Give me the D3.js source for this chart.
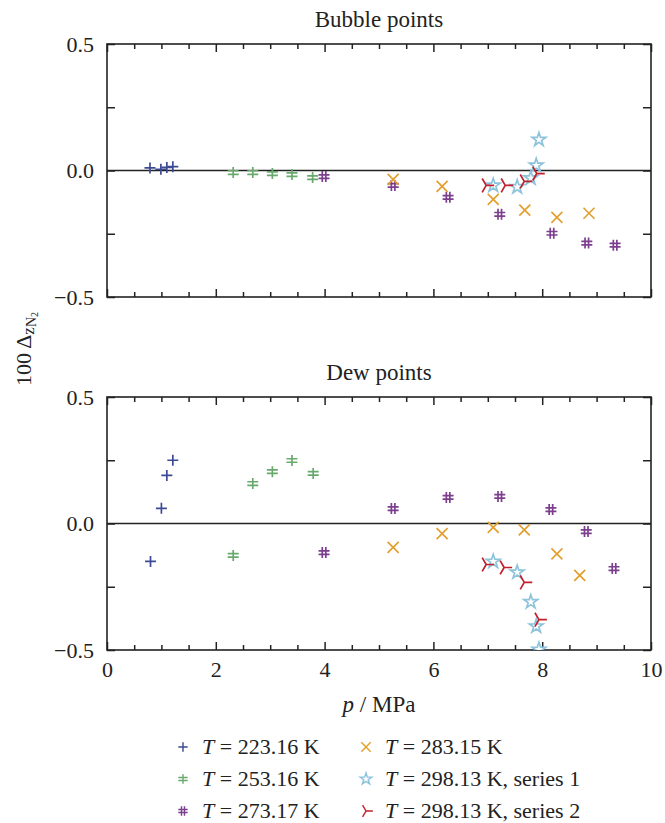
<!DOCTYPE html>
<html>
<head>
<meta charset="utf-8">
<script src="https://cdn.jsdelivr.net/npm/d3@7"></script>
<style>
  body { margin: 0; background: #fff; }
  text { font-family: "Liberation Serif", "DejaVu Serif", serif; fill: #222; }
</style>
</head>
<body>
<script>
// series labels (temperature) and extra text
const seriesT = ["223.16", "253.16", "273.17", "283.15", "298.13", "298.13"];
const seriesSuffix = ["", "", "", "", ", series 1", ", series 2"];

// bubble points: [p / MPa, 100*dz]
const bubble223 = [[0.79, 0.010], [0.99, 0.005], [1.10, 0.012], [1.21, 0.015]];
const bubble253 = [[2.32, -0.008], [2.68, -0.008], [3.04, -0.012], [3.40, -0.016], [3.78, -0.028]];
const bubble273 = [[3.99, -0.024], [5.26, -0.059], [6.27, -0.106], [7.22, -0.173], [8.18, -0.248], [8.82, -0.287], [9.34, -0.295]];
const bubble283 = [[5.26, -0.035], [6.16, -0.063], [7.10, -0.114], [7.68, -0.157], [8.27, -0.185], [8.86, -0.169]];
const bubble298a = [[7.10, -0.059], [7.54, -0.065], [7.79, -0.030], [7.89, 0.020], [7.94, 0.122]];
const bubble298b = [[6.97, -0.059], [7.32, -0.059], [7.67, -0.043], [7.90, -0.012]];

// dew points
const dew223 = [[0.80, -0.150], [1.00, 0.060], [1.10, 0.190], [1.21, 0.250]];
const dew253 = [[2.32, -0.126], [2.68, 0.158], [3.04, 0.205], [3.40, 0.249], [3.79, 0.198]];
const dew273 = [[3.99, -0.115], [5.26, 0.059], [6.27, 0.103], [7.22, 0.107], [8.16, 0.055], [8.81, -0.032], [9.32, -0.178]];
const dew283 = [[5.26, -0.094], [6.16, -0.040], [7.10, -0.015], [7.67, -0.025], [8.27, -0.120], [8.69, -0.205]];
const dew298a = [[7.10, -0.150], [7.54, -0.193], [7.79, -0.310], [7.89, -0.406], [7.94, -0.498]];
const dew298b = [[6.97, -0.162], [7.30, -0.174], [7.67, -0.233], [7.94, -0.380]];

const bubbleSets = [bubble223, bubble253, bubble273, bubble283, bubble298a, bubble298b];
const dewSets = [dew223, dew253, dew273, dew283, dew298a, dew298b];

const colors = ["#3d4b94", "#6aa96e", "#7c3f8e", "#e1a02e", "#8ec3dc", "#c2202b"];

const xTicks = [0, 2, 4, 6, 8, 10];
const yTicks = [-0.5, 0, 0.5];

// marker shapes
function shape(i) {
  const s = 5.5;
  switch (i) {
    case 0: return `M${-s},0H${s}M0,${-s}V${s}`;
    case 1: return `M0,${-s}V${s}M${-s},${-s*0.32}H${s}M${-s},${s*0.32}H${s}`;
    case 2: return `M${-s*0.32},${-s}V${s}M${s*0.32},${-s}V${s}M${-s},${-s*0.32}H${s}M${-s},${s*0.32}H${s}`;
    case 3: return `M${-s},${-s}L${s},${s}M${-s},${s}L${s},${-s}`;
    case 4: return d3.symbol(d3.symbolStar, 58)();
    case 5: { const r = 8; return `M0,0H${r}M0,0L${-r*0.5},${-r*0.866}M0,0L${-r*0.5},${r*0.866}`; }
  }
}

const svg = d3.select("body").append("svg").attr("width", 665).attr("height", 823);

const x = d3.scaleLinear().domain([0, 10]).range([107, 651]);
const fmt = d => d < 0 ? "\u2212" + Math.abs(d).toFixed(1) : d.toFixed(1);

function panel(top, bottom, title, sets, showXLabels) {
  const y = d3.scaleLinear().domain([-0.5, 0.5]).range([bottom, top]);
  const g = svg.append("g");

  g.append("text").attr("x", (x(0) + x(10)) / 2).attr("y", top - 17)
    .attr("text-anchor", "middle").attr("font-size", 23).text(title);

  // ticks (inward)
  const minorX = d3.range(0, 10.01, 0.5).filter(v => v % 2 !== 0);
  const minorY = [-0.25, 0.25];
  const addAxis = (axis, tr) => {
    const a = g.append("g").attr("transform", tr).call(axis);
    a.select(".domain").remove();
    a.selectAll(".tick line").attr("stroke", "#222").attr("stroke-width", 1.5);
    return a;
  };
  addAxis(d3.axisBottom(x).tickValues(xTicks).tickSize(-8).tickFormat(""), `translate(0,${bottom})`);
  addAxis(d3.axisBottom(x).tickValues(minorX).tickSize(-5).tickFormat(""), `translate(0,${bottom})`);
  addAxis(d3.axisTop(x).tickValues(xTicks).tickSize(-8).tickFormat(""), `translate(0,${top})`);
  addAxis(d3.axisTop(x).tickValues(minorX).tickSize(-5).tickFormat(""), `translate(0,${top})`);
  addAxis(d3.axisRight(y).tickValues(yTicks).tickSize(-8).tickFormat(""), `translate(${x(10)},0)`);
  addAxis(d3.axisRight(y).tickValues(minorY).tickSize(-8).tickFormat(""), `translate(${x(10)},0)`);
  addAxis(d3.axisLeft(y).tickValues(minorY).tickSize(-8).tickFormat(""), `translate(${x(0)},0)`);
  const ly = addAxis(d3.axisLeft(y).tickValues(yTicks).tickSize(-8).tickPadding(13).tickFormat(fmt), `translate(${x(0)},0)`);
  ly.selectAll("text").attr("font-size", 22).attr("font-family", "Liberation Serif").attr("fill", "#222");

  if (showXLabels) {
    const lx = addAxis(d3.axisBottom(x).tickValues(xTicks).tickSize(0).tickPadding(11).tickFormat(d3.format("d")), `translate(0,${bottom})`);
    lx.selectAll("text").attr("font-size", 22).attr("font-family", "Liberation Serif").attr("fill", "#222");
  }

  // frame
  g.append("rect").attr("x", x(0)).attr("y", top).attr("width", x(10) - x(0)).attr("height", bottom - top)
    .attr("fill", "none").attr("stroke", "#222").attr("stroke-width", 1.6);
  // zero line
  g.append("line").attr("x1", x(0)).attr("x2", x(10)).attr("y1", y(0)).attr("y2", y(0))
    .attr("stroke", "#222").attr("stroke-width", 1.6);

  const clip = "clip" + top;
  svg.append("clipPath").attr("id", clip).append("rect")
    .attr("x", x(0)).attr("y", top).attr("width", x(10) - x(0)).attr("height", bottom - top);

  const pts = g.append("g").attr("clip-path", `url(#${clip})`);
  sets.forEach((data, i) => {
    pts.selectAll(null).data(data).join("path")
      .attr("d", shape(i))
      .attr("transform", d => `translate(${x(d[0])},${y(d[1])})`)
      .attr("fill", i === 4 ? "#fff" : "none")
      .attr("stroke", colors[i])
      .attr("stroke-width", 1.7);
  });
}

panel(44, 297, "Bubble points", bubbleSets, false);
panel(397, 650, "Dew points", dewSets, true);

// y label
const yl = svg.append("text").attr("transform", "translate(31,349) rotate(-90)")
  .attr("text-anchor", "middle").attr("font-size", 22);
yl.append("tspan").text("100 \u0394");
yl.append("tspan").attr("font-size", 17).attr("dy", 3).text("z");
yl.append("tspan").attr("font-size", 14).attr("dy", 2).text("N");
yl.append("tspan").attr("font-size", 10).attr("dy", 2).text("2");

// x label
const xl = svg.append("text").attr("x", 379).attr("y", 712).attr("text-anchor", "middle").attr("font-size", 23);
xl.append("tspan").attr("font-style", "italic").text("p");
xl.append("tspan").text(" / MPa");

// legend
const legX = [183, 366];
const legY = [747, 779, 811];
seriesT.forEach((t, i) => {
  const col = i < 3 ? 0 : 1, row = i % 3;
  const lg = svg.append("g").attr("transform", `translate(${legX[col]},${legY[row]})`);
  lg.append("path").attr("d", shape(i)).attr("transform", "scale(0.85)")
    .attr("fill", i === 4 ? "#fff" : "none")
    .attr("stroke", colors[i]).attr("stroke-width", 1.7);
  const tx = lg.append("text").attr("x", 19).attr("y", 7).attr("font-size", 22);
  tx.append("tspan").attr("font-style", "italic").text("T");
  tx.append("tspan").text(` = ${t} K${seriesSuffix[i]}`);
});
</script>
</body>
</html>
